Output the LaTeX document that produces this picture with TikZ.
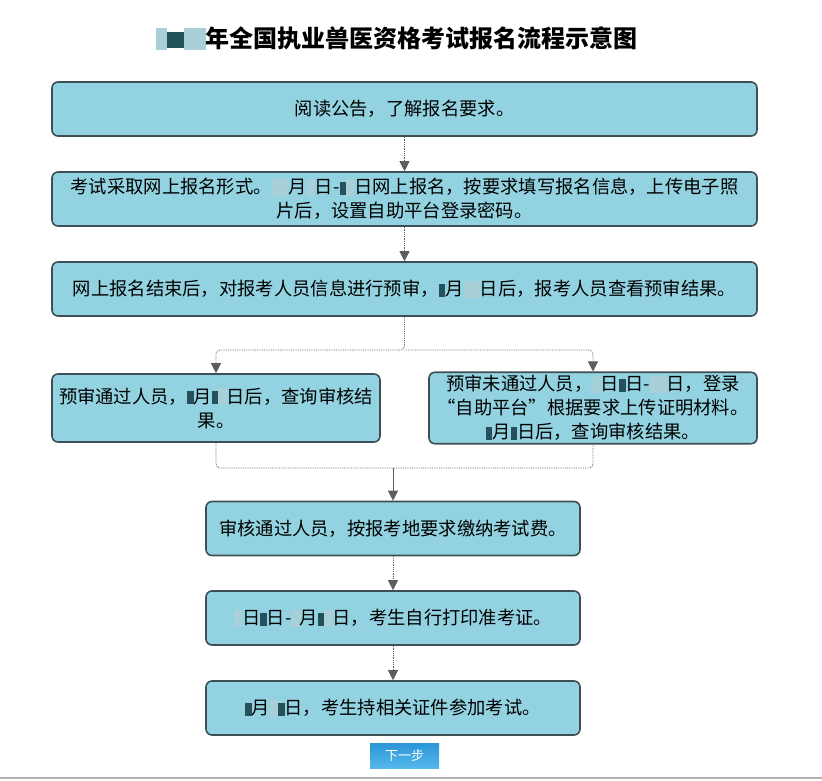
\documentclass[tikz,border=0pt]{standalone}
\usepackage{fontspec}
\setmainfont{Noto Sans CJK SC}
\usepackage{xcolor}
\usepackage{tikz}
\usetikzlibrary{shapes,arrows,arrows.meta}
\definecolor{boxfill}{HTML}{93D3E1}
\definecolor{boxdraw}{HTML}{3E4E55}
\definecolor{masklight}{HTML}{A9CFD8}
\definecolor{maskdark}{HTML}{24515C}
\definecolor{linegray}{HTML}{5E5E5E}
\newcommand{\maskl}{\textcolor{masklight}{\rule[-0.1em]{0.45em}{0.9em}}}
\newcommand{\maskd}{\textcolor{maskdark}{\rule[-0.05em]{0.35em}{0.7em}}}
\tikzstyle{block} = [rectangle, draw=boxdraw, line width=1.6pt, fill=boxfill, rounded corners=6pt, align=center, font=\fontsize{18.3}{24}\selectfont, inner sep=3pt]
\tikzstyle{wide} = [block, minimum width=705pt, minimum height=54pt]
\tikzstyle{half} = [block, minimum width=328pt, minimum height=68pt]
\tikzstyle{mid} = [block, minimum width=374pt, minimum height=54pt]
\tikzstyle{line} = [draw=linegray, densely dotted, thick, rounded corners=4pt, -{Triangle[length=10pt,width=10pt]}]

\begin{document}
\begin{tikzpicture}[x=1pt, y=-1pt]
\useasboundingbox (0,0) rectangle (822,781);
\node [font=\fontsize{24}{28}\selectfont\bfseries] (title) at (397,38) {\maskl\maskd\maskd\maskl\maskl 年全国执业兽医资格考试报名流程示意图};
\node [wide] (notice) at (404.5,109) {阅读公告，了解报名要求。};
\node [wide] (apply) at (404.5,199) {考试采取网上报名形式。\maskl\maskl 月\maskl 日-\maskd\maskl 日网上报名，按要求填写报名信息，上传电子照\\片后，设置自助平台登录密码。};
\node [wide] (precheck) at (404.5,289) {网上报名结束后，对报考人员信息进行预审，\maskd 月\maskl\maskl 日后，报考人员查看预审结果。};
\node [half] (pass) at (216,408) {预审通过人员，\maskd 月\maskd\maskl 日后，查询审核结\\果。};
\node [half] (fail) at (593,408) {预审未通过人员，\maskl 日\maskd 日-\maskl\maskl 日，登录\\“自助平台”根据要求上传证明材料。\\\maskd 月\maskd 日后，查询审核结果。};
\node [mid] (fee) at (393,528.5) {审核通过人员，按报考地要求缴纳考试费。};
\node [mid] (ticket) at (393,618) {\maskl 日\maskd 日-\maskl 月\maskd\maskl 日，考生自行打印准考证。};
\node [mid] (exam) at (393,708) {\maskd 月\maskl\maskd 日，考生持相关证件参加考试。};
\node [rectangle, minimum width=69pt, minimum height=25pt, top color={rgb,255:red,43;green,150;blue,216}, bottom color={rgb,255:red,84;green,184;blue,236}, text=white, font=\fontsize{13}{15}\selectfont] (next) at (404.5,755.5) {下一步};
\coordinate (split) at (404.5,350);
\coordinate (merge) at (393,468);
\path [line] (notice) -- (apply);
\path [line] (apply) -- (precheck);
\path [line] (precheck) -- (split) -| (pass);
\path [line] (split) -| (fail);
\path [draw=linegray, densely dotted, thick, rounded corners=4pt] (pass) |- (merge);
\path [draw=linegray, densely dotted, thick, rounded corners=4pt] (fail) |- (merge);
\path [draw=linegray, thick, -{Triangle[length=10pt,width=10pt]}] (merge) -- (fee);
\path [line] (fee) -- (ticket);
\path [line] (ticket) -- (exam);
\draw [gray!60, line width=2pt] (0,778) -- (822,778);
\end{tikzpicture}
\end{document}
